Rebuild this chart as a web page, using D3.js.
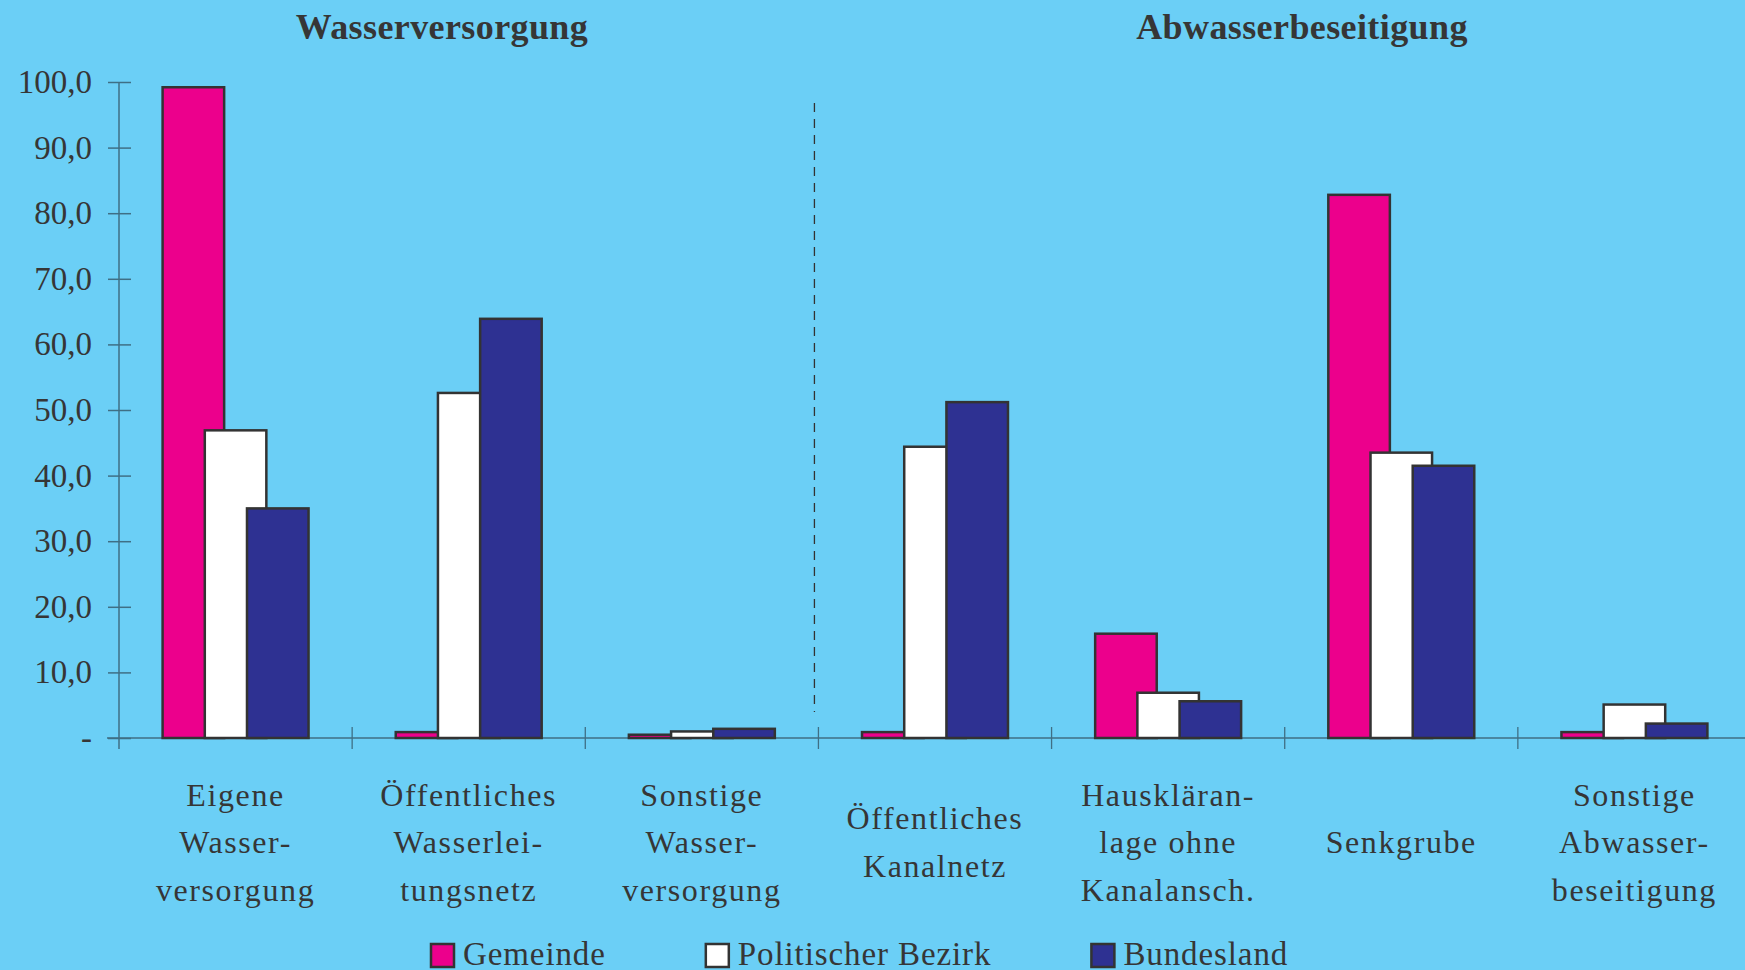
<!DOCTYPE html>
<html>
<head>
<meta charset="utf-8">
<script src="https://cdn.jsdelivr.net/npm/d3@7"></script>
<style>
    html, body { margin: 0; padding: 0; background: #6bcff6; overflow: hidden; }
    svg { display: block; }
    text { font-family: "Liberation Serif", "Times New Roman", serif; fill: #363636; }
</style>
</head>
<body>
<div id="chart"></div>
<script>
// categories (keys) and their wrapped labels
var categories = ["eigeneWV", "oeffWL", "sonstWV", "oeffKanal", "hausklaer", "senkgrube", "sonstAB"];
var categoryLines = [
    ["Eigene", "Wasser-", "versorgung"],
    ["Öffentliches", "Wasserlei-", "tungsnetz"],
    ["Sonstige", "Wasser-", "versorgung"],
    ["Öffentliches", "Kanalnetz"],
    ["Hauskläran-", "lage ohne", "Kanalansch."],
    ["Senkgrube"],
    ["Sonstige", "Abwasser-", "beseitigung"]
];
var seriesNames = ["Gemeinde", "Politischer Bezirk", "Bundesland"];
var gemeinde   = [99.2, 0.9, 0.5, 0.9, 15.9, 82.8, 0.9];
var bezirk     = [46.9, 52.6, 1.0, 44.4, 6.9, 43.5, 5.1];
var bundesland = [35.0, 63.9, 1.4, 51.2, 5.6, 41.5, 2.2];
var yTicks = [0, 10, 20, 30, 40, 50, 60, 70, 80, 90, 100];
var groupTitles = ["Wasserversorgung", "Abwasserbeseitigung"];

var colors = ["#ec008c", "#ffffff", "#2e3192"];
var seriesValues = [gemeinde, bezirk, bundesland];

var width = 1745, height = 970;
var axisColor = "#3f6f85";
var outline = "#333333";

var svg = d3.select("#chart").append("svg")
    .attr("width", width)
    .attr("height", height);

svg.append("rect")
    .attr("width", width)
    .attr("height", height)
    .attr("fill", "#6bcff6");

// scales
var x = d3.scaleBand()
    .domain(categories)
    .range([119, 1751])
    .padding(0);

var y = d3.scaleLinear()
    .domain([0, 100])
    .range([738, 82]);

var bw = x.bandwidth(),
    barW = bw * 0.264,
    step = bw * 0.181;

// titles
svg.selectAll(".group-title")
    .data(groupTitles)
    .enter().append("text")
    .attr("class", "group-title")
    .attr("x", (d, i) => i === 0 ? 442 : 1302)
    .attr("y", 39)
    .attr("text-anchor", "middle")
    .style("font-size", "36px")
    .style("font-weight", "bold")
    .style("letter-spacing", "0.4px")
    .text(d => d);

// dashed separator between the two groups
svg.append("line")
    .attr("x1", x(categories[3]) - 4)
    .attr("x2", x(categories[3]) - 4)
    .attr("y1", 103)
    .attr("y2", y(0) - 26)
    .style("stroke", "#333")
    .style("stroke-width", 1.3)
    .style("stroke-dasharray", "9,7");

// y axis
var yAxis = svg.append("g")
    .attr("class", "y axis")
    .attr("transform", "translate(" + x.range()[0] + ",0)")
    .call(d3.axisLeft(y)
        .tickValues(yTicks)
        .tickSize(11)
        .tickPadding(16)
        .tickFormat(d => d === 0 ? "-" : d3.format(".1f")(d).replace(".", ",")));

yAxis.select(".domain").remove();
yAxis.selectAll(".tick line")
    .attr("x1", 12)
    .style("stroke", axisColor)
    .style("stroke-width", 1.5);
yAxis.selectAll(".tick text")
    .style("font-size", "33px")
    .style("font-family", "'Liberation Serif', 'Times New Roman', serif")
    .style("fill", "#363636");

yAxis.append("line")
    .attr("x1", 0).attr("x2", 0)
    .attr("y1", y(100))
    .attr("y2", y(0) + 11)
    .style("stroke", axisColor)
    .style("stroke-width", 1.5);

// baseline and category boundary ticks
svg.append("line")
    .attr("x1", x.range()[0] - 12)
    .attr("x2", x.range()[1])
    .attr("y1", y(0))
    .attr("y2", y(0))
    .style("stroke", axisColor)
    .style("stroke-width", 1.5);

var bounds = categories.slice(1).map(c => x(c)).concat([x.range()[1]]);
svg.selectAll(".cat-tick")
    .data(bounds)
    .enter().append("line")
    .attr("class", "cat-tick")
    .attr("x1", d => d).attr("x2", d => d)
    .attr("y1", y(0) - 11)
    .attr("y2", y(0) + 11)
    .style("stroke", axisColor)
    .style("stroke-width", 1.3);

// bars, one series after another so later ones overlap earlier ones
seriesValues.forEach(function(vals, si) {
    svg.append("g")
        .attr("class", "series s" + si)
        .selectAll("rect")
        .data(vals)
        .enter().append("rect")
        .attr("x", (d, i) => x(categories[i]) + bw / 2 + (si - 1) * step - barW / 2)
        .attr("y", d => y(d))
        .attr("width", barW)
        .attr("height", d => y(0) - y(d))
        .style("fill", colors[si])
        .style("stroke", outline)
        .style("stroke-width", 2.5);
});

// category labels
var lineH = 47.5;
svg.selectAll(".cat-label")
    .data(categoryLines)
    .enter().append("text")
    .attr("class", "cat-label")
    .attr("text-anchor", "middle")
    .style("font-size", "32px")
    .style("letter-spacing", "1.6px")
    .each(function(lines, i) {
        var cx = x(categories[i]) + bw / 2;
        var first = 853 - (lines.length - 1) / 2 * lineH;
        d3.select(this).selectAll("tspan")
            .data(lines)
            .enter().append("tspan")
            .attr("x", cx)
            .attr("y", (l, j) => first + j * lineH)
            .text(l => l);
    });

// legend
var legend = svg.append("g").attr("class", "legend");
var lx = 431;
seriesNames.forEach(function(name, i) {
    legend.append("rect")
        .attr("x", lx)
        .attr("y", 944)
        .attr("width", 23)
        .attr("height", 23)
        .style("fill", colors[i])
        .style("stroke", outline)
        .style("stroke-width", 2.5);
    var t = legend.append("text")
        .attr("x", lx + 32)
        .attr("y", 965)
        .style("font-size", "33px")
        .style("letter-spacing", "0.9px")
        .text(name);
    lx = lx + 32 + t.node().getComputedTextLength() + 100;
});
</script>
</body>
</html>
